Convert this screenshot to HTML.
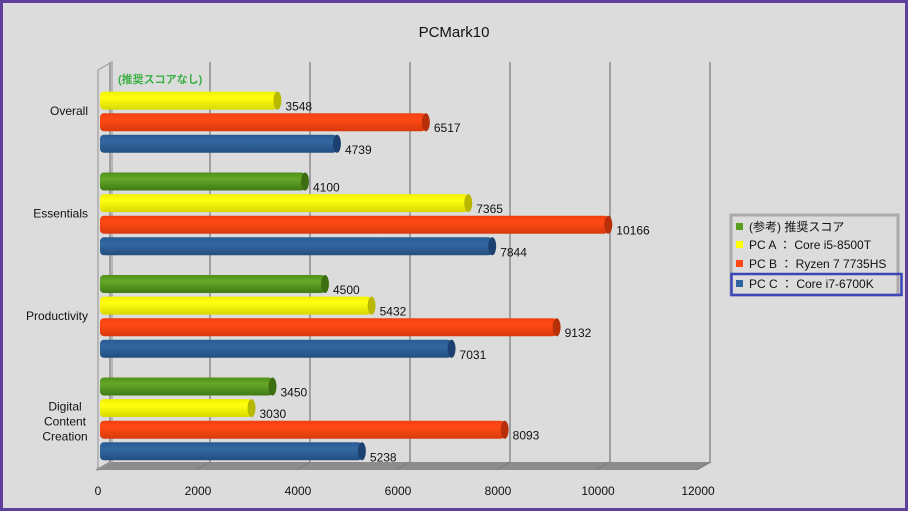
<!DOCTYPE html>
<html><head><meta charset="utf-8">
<style>
body{margin:0;background:#dcdcdc}
svg{display:block;font-family:"Liberation Sans","Noto Sans CJK JP",sans-serif}
</style></head><body>
<svg id="c" width="908" height="511" viewBox="0 0 908 511">
<defs>
<linearGradient id="g0" x1="0" y1="0" x2="0" y2="1"><stop offset="0" stop-color="#4e8f1a"/><stop offset="0.35" stop-color="#66a828"/><stop offset="1" stop-color="#3f7a14"/></linearGradient>
<linearGradient id="g1" x1="0" y1="0" x2="0" y2="1"><stop offset="0" stop-color="#f0f000"/><stop offset="0.35" stop-color="#ffff10"/><stop offset="1" stop-color="#d8d800"/></linearGradient>
<linearGradient id="g2" x1="0" y1="0" x2="0" y2="1"><stop offset="0" stop-color="#f04010"/><stop offset="0.35" stop-color="#ff4a14"/><stop offset="1" stop-color="#d83a0c"/></linearGradient>
<linearGradient id="g3" x1="0" y1="0" x2="0" y2="1"><stop offset="0" stop-color="#2a5a92"/><stop offset="0.35" stop-color="#3268a2"/><stop offset="1" stop-color="#234e80"/></linearGradient>
</defs>
<rect x="1.5" y="1.5" width="905" height="508" fill="#dcdcdc" stroke="#5e3f9c" stroke-width="3"/>
<text x="454" y="37" text-anchor="middle" font-size="15" fill="#111">PCMark10</text>
<g id="grid"></g>
<g id="bars"></g>
<g id="labels"></g>
<g>
<rect x="731" y="215" width="167" height="80" fill="#dcdcdc" stroke="#aaa" stroke-width="3"/>
<rect x="731.5" y="274" width="170" height="21" fill="none" stroke="#3a45b8" stroke-width="2.5"/>
<g font-size="12" fill="#111">
<rect x="736" y="223" width="7" height="7" fill="#5a9e1e"/><text x="749" y="231">(参考) 推奨スコア</text>
<rect x="736" y="241" width="7" height="7" fill="#ffff00"/><text x="749" y="249">PC A ： Core i5-8500T</text>
<rect x="736" y="260" width="7" height="7" fill="#ff4813"/><text x="749" y="268">PC B ： Ryzen 7 7735HS</text>
<rect x="736" y="280" width="7" height="7" fill="#2e64a0"/><text x="749" y="288">PC C ： Core i7-6700K</text>
</g></g>
</svg>
<script>
const categories=["Overall","Essentials","Productivity","Digital Content Creation"];
const seriesRef=[null,4100,4500,3450];
const seriesA=[3548,7365,5432,3030];
const seriesB=[6517,10166,9132,8093];
const seriesC=[4739,7844,7031,5238];
const ticks=[0,2000,4000,6000,8000,10000,12000];
const NS="http://www.w3.org/2000/svg";
const X0=100, PX=0.05;
const x=v=>X0+v*PX;
const groupY=i=>79+i*102.5;
function mk(t,a,p){const e=document.createElementNS(NS,t);for(const k in a)e.setAttribute(k,a[k]);p.appendChild(e);return e;}
const grid=document.getElementById('grid'),bars=document.getElementById('bars'),labels=document.getElementById('labels');
// walls & floor
let w=mk('polygon',{points:"98,470 112,462 112,62 98,70",fill:"#dcdcdc",stroke:"#aaa","stroke-width":1.5},grid);


let fl=mk('polygon',{points:"98,470 698,470 712,462 112,462",fill:"#8c8c8c"},grid);


ticks.forEach(t=>{
 const bx=x(t)+12-2;
 const gl=mk('line',{x1:bx,y1:62,x2:bx,y2:462,stroke:"#a0a0a0","stroke-width":2},grid);
 
 
 mk('line',{x1:bx-14,y1:470,x2:bx,y2:462,stroke:"#7a7a7a","stroke-width":1},grid);
 const tl=mk('text',{x:x(t)-2,y:495,"text-anchor":"middle","font-size":12,fill:"#111"},labels);
 tl.textContent=t;
 
 
});
const all=[[seriesRef,"g0","#3d6e12"],[seriesA,"g1","#b8b800"],[seriesB,"g2","#b8300a"],[seriesC,"g3","#1c4170"]];
categories.forEach((c,i)=>{
 all.forEach(([s,g,cap],k)=>{
  const cy=groupY(i)+k*21.6;
  const v=s[i];
  if(v==null){
   const n=mk('text',{x:118,y:cy+4,"font-size":11,"font-weight":"bold",fill:"#3cb043"},labels);
   n.textContent="(推奨スコアなし)";
   
   
   return;
  }
  const xe=x(v);
  const r=mk('rect',{x:X0,y:cy-9,width:xe-X0,height:18,rx:4,fill:"url(#"+g+")"},bars);
  
  
  mk('ellipse',{cx:xe,cy:cy,rx:4,ry:9,fill:cap},bars);
  const t=mk('text',{x:xe+8,y:cy+10,"font-size":12,fill:"#111"},labels);
  t.textContent=v;
  
  
 });
 const words=c==="Digital Content Creation"?["Digital","Content","Creation"]:[c];
 const midY=groupY(i)+32;
 words.forEach((wd,j)=>{
  const t=mk('text',{x:c==="Digital Content Creation"?65:88,y:(words.length>1?midY-8+j*15:midY+4),"text-anchor":c==="Digital Content Creation"?"middle":"end","font-size":12,fill:"#111"},labels);
  t.textContent=wd;
  
  
 });
});
</script>
</body></html>
